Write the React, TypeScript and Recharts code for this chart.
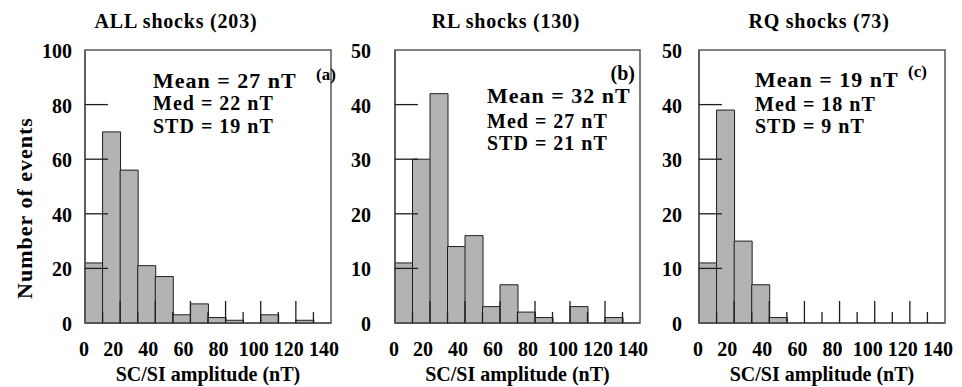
import * as React from "react"
import { BarChart, Bar, XAxis, YAxis, ReferenceArea } from "recharts"

// ── Histogram data (counts per 10 nT bin) ─────────────────────
const BINS = ["0-10", "10-20", "20-30", "30-40", "40-50", "50-60", "60-70",
  "70-80", "80-90", "90-100", "100-110", "110-120", "120-130", "130-140"]
const BIN_START = [0, 10, 20, 30, 40, 50, 60, 70, 80, 90, 100, 110, 120, 130]

const ALL_COUNTS = [22, 70, 56, 21, 17, 3, 7, 2, 1, 0, 3, 0, 1, 0]
const RL_COUNTS  = [11, 30, 42, 14, 16, 3, 7, 2, 1, 0, 3, 0, 1, 0]
const RQ_COUNTS  = [11, 39, 15, 7, 1, 0, 0, 0, 0, 0, 0, 0, 0, 0]

const X_TICKS = [0, 10, 20, 30, 40, 50, 60, 70, 80, 90, 100, 110, 120, 130, 140]
const Y_TICKS_ALL = [0, 20, 40, 60, 80, 100]
const Y_TICKS_SPLIT = [0, 10, 20, 30, 40, 50]

const TITLES = ["ALL shocks (203)", "RL shocks (130)", "RQ shocks (73)"]
const PANEL_TAGS = ["(a)", "(b)", "(c)"]
const MEANS = [27, 32, 19]
const MEDIANS = [22, 27, 18]
const STDS = [19, 21, 9]

// ── Styles ────────────────────────────────────────────────────
const FONT = "'Liberation Serif', 'Times New Roman', serif"
const BAR_FILL = "#b3b3b3"
const BAR_EDGE = "#1e1e1e"
const FRAME = "#555555"
const TICK = "#1e1e1e"
const X_MAX = 140

const textStyle = { fontFamily: FONT, fontWeight: 700, fill: "#000" }

function XTick(props: any) {
  const { x, y, payload } = props
  const v = payload.value as number
  const major = v % 20 === 0
  const inner = v > 0 && v < X_MAX
  return (
    <g>
      {inner && (
        <line x1={x} x2={x} y1={y} y2={y - (major ? 22 : 11)} stroke={TICK} strokeWidth={1.3} />
      )}
      {major && (
        <text x={x - (v > 0 ? 7 : 1)} y={y + 33} textAnchor="middle" fontSize={20} {...textStyle}>
          {v}
        </text>
      )}
    </g>
  )
}

function makeYTick(gap: number, max: number) {
  return (props: any) => {
    const { x, y, payload } = props
    const v = payload.value as number
    return (
      <g>
        {v > 0 && v < max && (
          <line x1={x} x2={x + 23} y1={y} y2={y} stroke={TICK} strokeWidth={1.3} />
        )}
        <text x={x - gap} y={y + 8} textAnchor="end" fontSize={20} {...textStyle}>
          {v}
        </text>
      </g>
    )
  }
}

interface PanelProps {
  counts: number[]
  yTicks: number[]
  left: number
  width: number
  yAxisWidth: number
  marginRight: number
  labelGap: number
}

function Panel({ counts, yTicks, left, width, yAxisWidth, marginRight, labelGap }: PanelProps) {
  const yMax = yTicks[yTicks.length - 1]
  const data = BINS.map((bin, i) => ({ bin, lo: BIN_START[i], count: counts[i] }))
  return (
    <div style={{ position: "absolute", left, top: 0 }}>
      <BarChart
        width={width}
        height={387}
        data={data}
        barCategoryGap={0}
        barGap={0}
        margin={{ top: 50, right: marginRight, bottom: 0, left: 0 }}
      >
        <XAxis xAxisId="bins" dataKey="bin" type="category" hide height={0} />
        <XAxis
          xAxisId="nt"
          dataKey="lo"
          type="number"
          domain={[0, X_MAX]}
          ticks={X_TICKS}
          interval={0}
          height={64}
          tickSize={0}
          tickMargin={0}
          tickLine={false}
          axisLine={{ stroke: FRAME, strokeWidth: 1.5 }}
          tick={XTick}
          label={{
            value: "SC/SI amplitude (nT)",
            position: "insideBottom",
            offset: 6,
            fontSize: 20,
            fontFamily: FONT,
            fontWeight: 700,
            fill: "#000",
          }}
        />
        <ReferenceArea
          xAxisId="nt"
          x1={0}
          x2={X_MAX}
          y1={0}
          y2={yMax}
          fill="none"
          stroke={FRAME}
          strokeWidth={1.5}
        />
        <Bar
          xAxisId="bins"
          dataKey="count"
          fill={BAR_FILL}
          stroke={BAR_EDGE}
          strokeWidth={1}
          isAnimationActive={false}
        />
        <YAxis
          type="number"
          domain={[0, yMax]}
          ticks={yTicks}
          interval={0}
          width={yAxisWidth}
          tickSize={0}
          tickMargin={0}
          tickLine={false}
          axisLine={{ stroke: FRAME, strokeWidth: 1.5 }}
          tick={makeYTick(labelGap, yMax)}
        />
      </BarChart>
    </div>
  )
}

// ── Overlay text: titles, stats, panel tags ───────────────────
const STAT_X = [153, 487, 755]
const MEAN_Y = [88, 103, 87]
const MED_Y = [110, 128, 111]
const STD_Y = [133, 150, 133]
const TITLE_X = [176, 506, 819]

function Overlay() {
  return (
    <svg width={962} height={387} style={{ position: "absolute", left: 0, top: 0, pointerEvents: "none" }}>
      {TITLES.map((t, i) => (
        <text key={t} x={TITLE_X[i]} y={28} textAnchor="middle" fontSize={20} letterSpacing={0.8} {...textStyle}>
          {t}
        </text>
      ))}
      {MEANS.map((m, i) => (
        <g key={`stats-${i}`}>
          <text x={STAT_X[i]} y={MEAN_Y[i]} fontSize={22} letterSpacing={1} {...textStyle}>
            {`Mean = ${m} nT`}
          </text>
          <text x={STAT_X[i]} y={MED_Y[i]} fontSize={20} letterSpacing={1} {...textStyle}>
            {`Med = ${MEDIANS[i]} nT`}
          </text>
          <text x={STAT_X[i]} y={STD_Y[i]} fontSize={20} letterSpacing={1} {...textStyle}>
            {`STD = ${STDS[i]} nT`}
          </text>
        </g>
      ))}
      <text x={316} y={80} fontSize={17} {...textStyle}>{PANEL_TAGS[0]}</text>
      <text x={635} y={80} fontSize={20} textAnchor="end" {...textStyle}>{PANEL_TAGS[1]}</text>
      <text x={908} y={77} fontSize={17} {...textStyle}>{PANEL_TAGS[2]}</text>
      <text
        transform="translate(32,208) rotate(-90)"
        textAnchor="middle"
        fontSize={22}
        letterSpacing={1}
        {...textStyle}
      >
        Number of events
      </text>
    </svg>
  )
}

export default function App() {
  return (
    <div style={{ position: "absolute", left: 0, top: 0, width: 962, height: 387, background: "#fff" }}>
      <Panel counts={ALL_COUNTS} yTicks={Y_TICKS_ALL} left={0} width={340} yAxisWidth={85} marginRight={9} labelGap={13} />
      <Panel counts={RL_COUNTS} yTicks={Y_TICKS_SPLIT} left={340} width={312} yAxisWidth={55} marginRight={12} labelGap={24} />
      <Panel counts={RQ_COUNTS} yTicks={Y_TICKS_SPLIT} left={652} width={310} yAxisWidth={47} marginRight={17} labelGap={17} />
      <Overlay />
    </div>
  )
}
